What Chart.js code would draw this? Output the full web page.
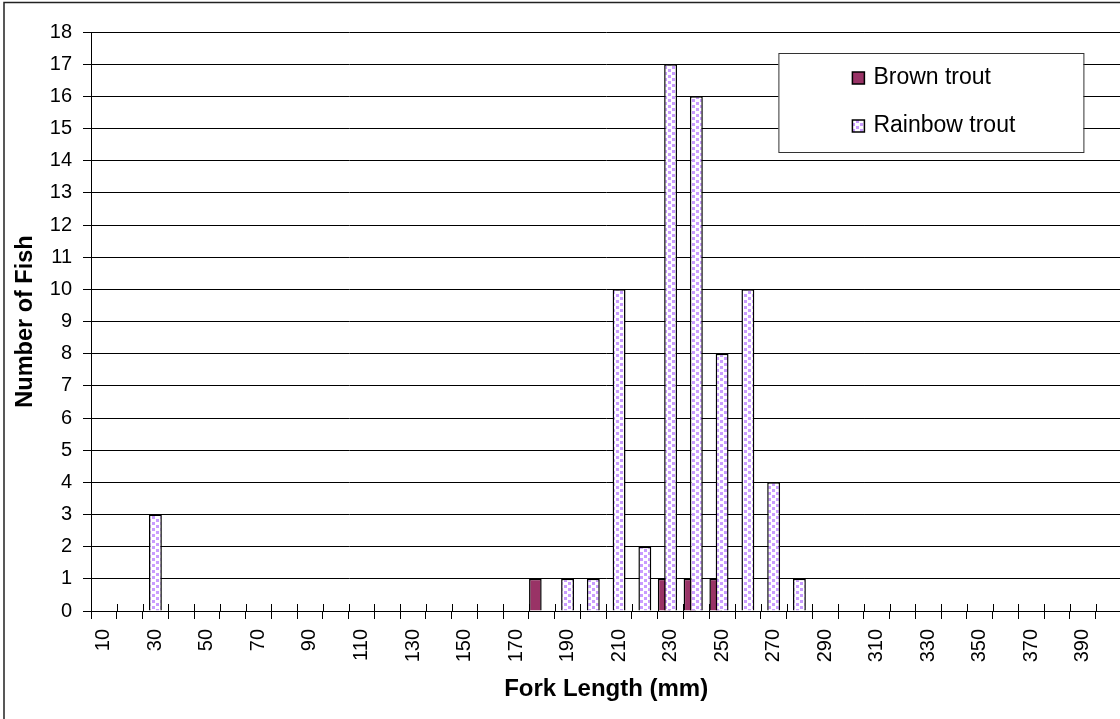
<!DOCTYPE html>
<html>
<head>
<meta charset="utf-8">
<script src="https://cdn.jsdelivr.net/npm/chart.js@4/dist/chart.umd.min.js"></script>
<style>
html, body { margin: 0; padding: 0; overflow: hidden; background: #fff; }
#chart { display: block; }
</style>
</head>
<body>
<canvas id="chart" width="1122" height="724"></canvas>
<script>
const forkLengths = ['10', '20', '30', '40', '50', '60', '70', '80', '90', '100',
    '110', '120', '130', '140', '150', '160', '170', '180', '190', '200',
    '210', '220', '230', '240', '250', '260', '270', '280', '290', '300',
    '310', '320', '330', '340', '350', '360', '370', '380', '390', '400'];
const brownTrout = [0, 0, 0, 0, 0, 0, 0, 0, 0, 0,
    0, 0, 0, 0, 0, 0, 0, 1, 0, 0,
    0, 0, 1, 1, 1, 0, 0, 0, 0, 0,
    0, 0, 0, 0, 0, 0, 0, 0, 0, 0];
const rainbowTrout = [0, 0, 3, 0, 0, 0, 0, 0, 0, 0,
    0, 0, 0, 0, 0, 0, 0, 0, 1, 1,
    10, 2, 17, 16, 8, 10, 4, 1, 0, 0,
    0, 0, 0, 0, 0, 0, 0, 0, 0, 0];
const yMax = 18;
const yStep = 1;

const FONT = '"Liberation Sans", Arial, sans-serif';

function dotPattern() {
    const c = document.createElement('canvas');
    c.width = 8;
    c.height = 6;
    const g = c.getContext('2d');
    g.fillStyle = '#fff';
    g.fillRect(0, 0, 8, 6);
    g.fillStyle = '#c99cff';
    g.fillRect(0, 0, 3, 3);
    g.fillRect(4, 3, 3, 3);
    return g.createPattern(c, 'repeat');
}

// white page + outer frame
const frame = {
    id: 'frame',
    beforeDraw(chart) {
        const ctx = chart.ctx;
        ctx.save();
        ctx.fillStyle = '#fff';
        ctx.fillRect(0, 0, chart.width, chart.height);
        ctx.strokeStyle = '#222';
        ctx.lineWidth = 1.5;
        ctx.strokeRect(4, 2.5, chart.width - 5, chart.height - 4);
        ctx.restore();
    }
};

// excel style "cross" tick marks: the part above the x axis
const crossTicks = {
    id: 'crossTicks',
    afterDatasetsDraw(chart) {
        const xs = chart.scales.x;
        const ctx = chart.ctx;
        const step = xs.getPixelForValue(1) - xs.getPixelForValue(0);
        const bottom = chart.chartArea.bottom;
        ctx.save();
        ctx.strokeStyle = '#000';
        ctx.lineWidth = 1;
        ctx.beginPath();
        for (let i = 0; i <= forkLengths.length; i++) {
            const x = Math.round(xs.getPixelForValue(0) - step / 2 + i * step) + 0.5;
            ctx.moveTo(x, bottom - 7);
            ctx.lineTo(x, bottom);
        }
        ctx.stroke();
        ctx.restore();
    }
};

const legendBox = {
    id: 'legendBox',
    afterDraw(chart, args, opts) {
        const ctx = chart.ctx;
        const left = chart.chartArea.right - opts.right - opts.width;
        const top = chart.chartArea.top + opts.top;
        ctx.save();
        ctx.fillStyle = '#fff';
        ctx.fillRect(left, top, opts.width, opts.height);
        ctx.strokeStyle = '#333';
        ctx.lineWidth = 1;
        ctx.strokeRect(left + 0.5, top + 0.5, opts.width, opts.height);
        ctx.font = '23px ' + FONT;
        ctx.textBaseline = 'alphabetic';
        ctx.textAlign = 'left';
        chart.data.datasets.filter(ds => ds.label).forEach((ds, i) => {
            const sy = top + 19 + i * 48;
            const sx = left + 74;
            ctx.fillStyle = ds.backgroundColor;
            ctx.fillRect(sx, sy, 12, 12);
            ctx.strokeStyle = '#000';
            ctx.lineWidth = 1.5;
            ctx.strokeRect(sx, sy, 12, 12);
            ctx.fillStyle = '#000';
            ctx.fillText(ds.label, sx + 21, sy + 12);
        });
        ctx.restore();
    }
};

new Chart(document.getElementById('chart').getContext('2d'), {
    type: 'bar',
    data: {
        labels: forkLengths,
        datasets: [{
            label: 'Brown trout',
            data: brownTrout,
            backgroundColor: '#993366',
            borderColor: '#000',
            borderWidth: 1.5,
            categoryPercentage: 1,
            barPercentage: 0.98
        }, {
            label: 'Rainbow trout',
            data: rainbowTrout,
            backgroundColor: dotPattern(),
            borderColor: '#000',
            borderWidth: 1.5,
            grouped: false,
            order: -1,
            categoryPercentage: 1,
            barPercentage: 0.5
        }, {
            // empty slot so brown sits half a bar left of centre
            label: '',
            data: [],
            categoryPercentage: 1,
            barPercentage: 0.98
        }]
    },
    options: {
        responsive: false,
        animation: false,
        layout: { padding: { top: 32, left: 0, right: 0.6, bottom: 0 } },
        plugins: {
            legend: { display: false },
            tooltip: { enabled: false },
            legendBox: { top: 21, right: 38, width: 305, height: 99 }
        },
        scales: {
            x: {
                offset: true,
                grid: { offset: true, drawOnChartArea: false, color: '#000', tickLength: 8 },
                border: { color: '#000', width: 1 },
                ticks: {
                    autoSkip: false,
                    maxRotation: 90,
                    minRotation: 90,
                    padding: 10,
                    color: '#000',
                    font: { family: FONT, size: 20 },
                    callback: (v, i) => (i % 2 === 0 ? forkLengths[i] : '')
                },
                title: {
                    display: true,
                    text: 'Fork Length (mm)',
                    color: '#000',
                    font: { family: FONT, size: 24, weight: 'bold' },
                    padding: { top: 0, bottom: 20 }
                },
                afterFit: s => {
                    s.height = 113;
                    s.paddingLeft = 0;
                    s.paddingRight = 0;
                }
            },
            y: {
                min: 0,
                max: yMax,
                ticks: {
                    stepSize: yStep,
                    padding: 11,
                    color: '#000',
                    font: { family: FONT, size: 20 }
                },
                grid: { color: '#000', tickLength: 8 },
                border: { color: '#000', width: 1 },
                title: {
                    display: true,
                    text: 'Number of Fish',
                    color: '#000',
                    font: { family: FONT, size: 23.5, weight: 'bold' },
                    padding: { top: 11, bottom: 0 }
                },
                afterFit: s => { s.width = 91; }
            }
        }
    },
    plugins: [frame, crossTicks, legendBox]
});
</script>
</body>
</html>
